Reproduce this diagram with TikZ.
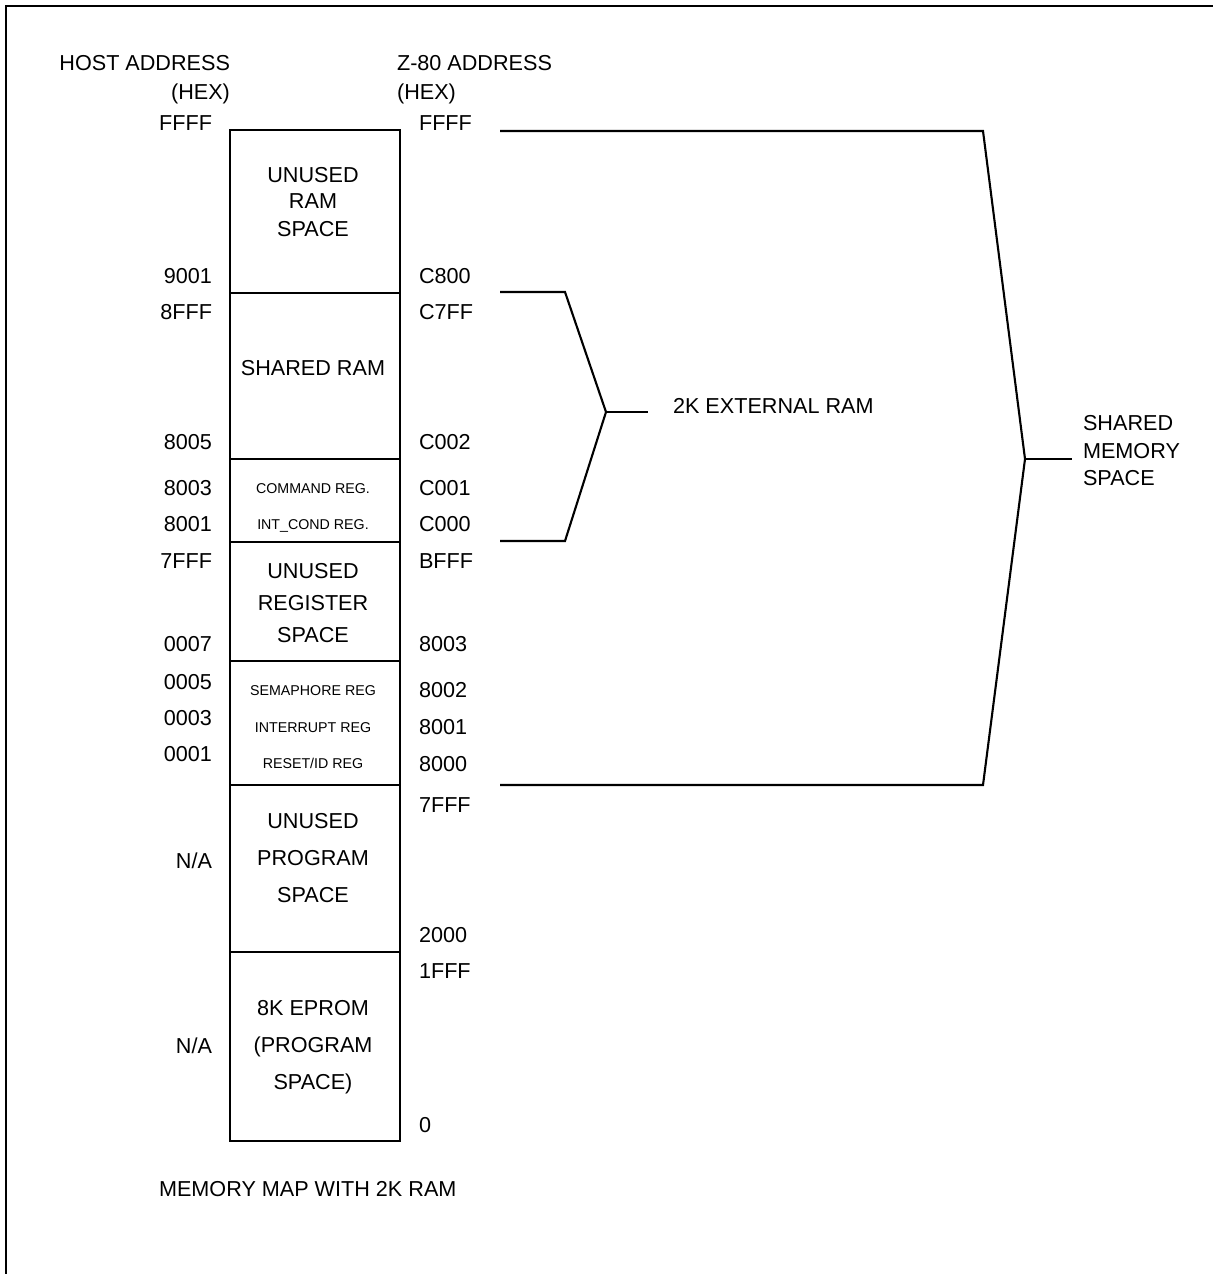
\documentclass[tikz,border=0pt]{standalone}
\usepackage{fontspec}
\setmainfont{Liberation Sans}
\begin{document}
\begin{tikzpicture}[x=0.02cm,y=-0.02cm,
  line width=1.2pt, line join=miter,
  sec/.style={draw, line width=1.2pt, minimum width=3.4cm, inner sep=0pt},
  big/.style={font=\fontsize{12.3}{14}\selectfont, inner sep=0pt, text height=0.716em, text depth=0pt},
  small/.style={font=\fontsize{8.1}{10}\selectfont, inner sep=0pt, text height=0.716em, text depth=0pt},
  hl/.style={big, anchor=east},
  zl/.style={big, anchor=west},
  bx/.style={big},
  bxs/.style={small},
  lead/.style={line width=1.2pt}]
\useasboundingbox (0,0) rectangle (1213,1274);
% frame
\draw[line width=1.6pt] (1213,6) -- (6,6) -- (6,1274);
% memory sections
\node[sec, minimum height=3.26cm] (s1) at (315,211.5) {};
\node[sec, minimum height=3.32cm] (s2) at (315,376) {};
\node[sec, minimum height=1.66cm] (s3) at (315,500.5) {};
\node[sec, minimum height=2.38cm] (s4) at (315,601.5) {};
\node[sec, minimum height=2.48cm] (s5) at (315,723) {};
\node[sec, minimum height=3.34cm] (s6) at (315,868.5) {};
\node[sec, minimum height=3.78cm] (s7) at (315,1046.5) {};
% section texts
\node[bx] (t1a) at (313,176) {UNUSED};
\node[bx] (t1b) at (313,202.5) {RAM};
\node[bx] (t1c) at (313,230) {SPACE};
\node[bx] (t2) at (313,369) {SHARED RAM};
\node[bxs] (t3a) at (313,487) {COMMAND REG.};
\node[bxs] (t3b) at (313,523) {INT\_COND REG.};
\node[bx] (t4a) at (313,572.5) {UNUSED};
\node[bx] (t4b) at (313,604) {REGISTER};
\node[bx] (t4c) at (313,636) {SPACE};
\node[bxs] (t5a) at (313,689) {SEMAPHORE REG};
\node[bxs] (t5b) at (313,726) {INTERRUPT REG};
\node[bxs] (t5c) at (313,762) {RESET/ID REG};
\node[bx] (t6a) at (313,822) {UNUSED};
\node[bx] (t6b) at (313,859) {PROGRAM};
\node[bx] (t6c) at (313,896) {SPACE};
\node[bx] (t7a) at (313,1009.5) {8K EPROM};
\node[bx] (t7b) at (313,1046) {(PROGRAM};
\node[bx] (t7c) at (313,1083) {SPACE)};
% headers
\node[hl] (hh1) at (231,64.5) {HOST ADDRESS};
\node[hl] (hh2) at (231,93) {(HEX)};
\node[zl] (zh1) at (396,64.5) {Z-80 ADDRESS};
\node[zl] (zh2) at (396,93) {(HEX)};
% host addresses
\node[hl] (h1) at (213,124.5) {FFFF};
\node[hl] (h2) at (213,277) {9001};
\node[hl] (h3) at (213,313) {8FFF};
\node[hl] (h4) at (213,443) {8005};
\node[hl] (h5) at (213,489.5) {8003};
\node[hl] (h6) at (213,525) {8001};
\node[hl] (h7) at (213,562) {7FFF};
\node[hl] (h8) at (213,645) {0007};
\node[hl] (h9) at (213,683) {0005};
\node[hl] (h10) at (213,719.5) {0003};
\node[hl] (h11) at (213,755) {0001};
\node[hl] (h12) at (213,862) {N/A};
\node[hl] (h13) at (213,1047) {N/A};
% z80 addresses
\node[zl] (z1) at (418,124.5) {FFFF};
\node[zl] (z2) at (418,277) {C800};
\node[zl] (z3) at (418,313) {C7FF};
\node[zl] (z4) at (418,443) {C002};
\node[zl] (z5) at (418,489.5) {C001};
\node[zl] (z6) at (418,525) {C000};
\node[zl] (z7) at (418,562) {BFFF};
\node[zl] (z8) at (418,645) {8003};
\node[zl] (z9) at (418,691) {8002};
\node[zl] (z10) at (418,728) {8001};
\node[zl] (z11) at (418,765) {8000};
\node[zl] (z12) at (418,806) {7FFF};
\node[zl] (z13) at (418,936) {2000};
\node[zl] (z14) at (418,972.5) {1FFF};
\node[zl] (z15) at (418,1126) {0};
% 2K external RAM bracket
\coordinate (e1) at (500,292);
\coordinate (e2) at (565,292);
\coordinate (etip) at (606,412);
\coordinate (e3) at (565,541);
\coordinate (e4) at (500,541);
\node[big, anchor=west] (ext) at (672,407) {2K EXTERNAL RAM};
\draw[lead] (e1) -- (e2) -- (etip) -- (e3) -- (e4);
\draw[lead] (etip) -- (648,412);
% shared memory bracket
\coordinate (m1) at (500,131);
\coordinate (m2) at (983,131);
\coordinate (mtip) at (1025,459);
\coordinate (m3) at (983,785);
\coordinate (m4) at (500,785);
\node[big, anchor=west] (sm1) at (1082,424) {SHARED};
\node[big, anchor=west] (sm2) at (1082,452) {MEMORY};
\node[big, anchor=west] (sm3) at (1082,479.5) {SPACE};
\draw[lead] (m1) -- (m2) -- (mtip) -- (m3) -- (m4);
\draw[lead] (mtip) -- (1072,459);
% caption
\node[big, anchor=west] (cap) at (158,1190) {MEMORY MAP WITH 2K RAM};
\end{tikzpicture}
\end{document}
